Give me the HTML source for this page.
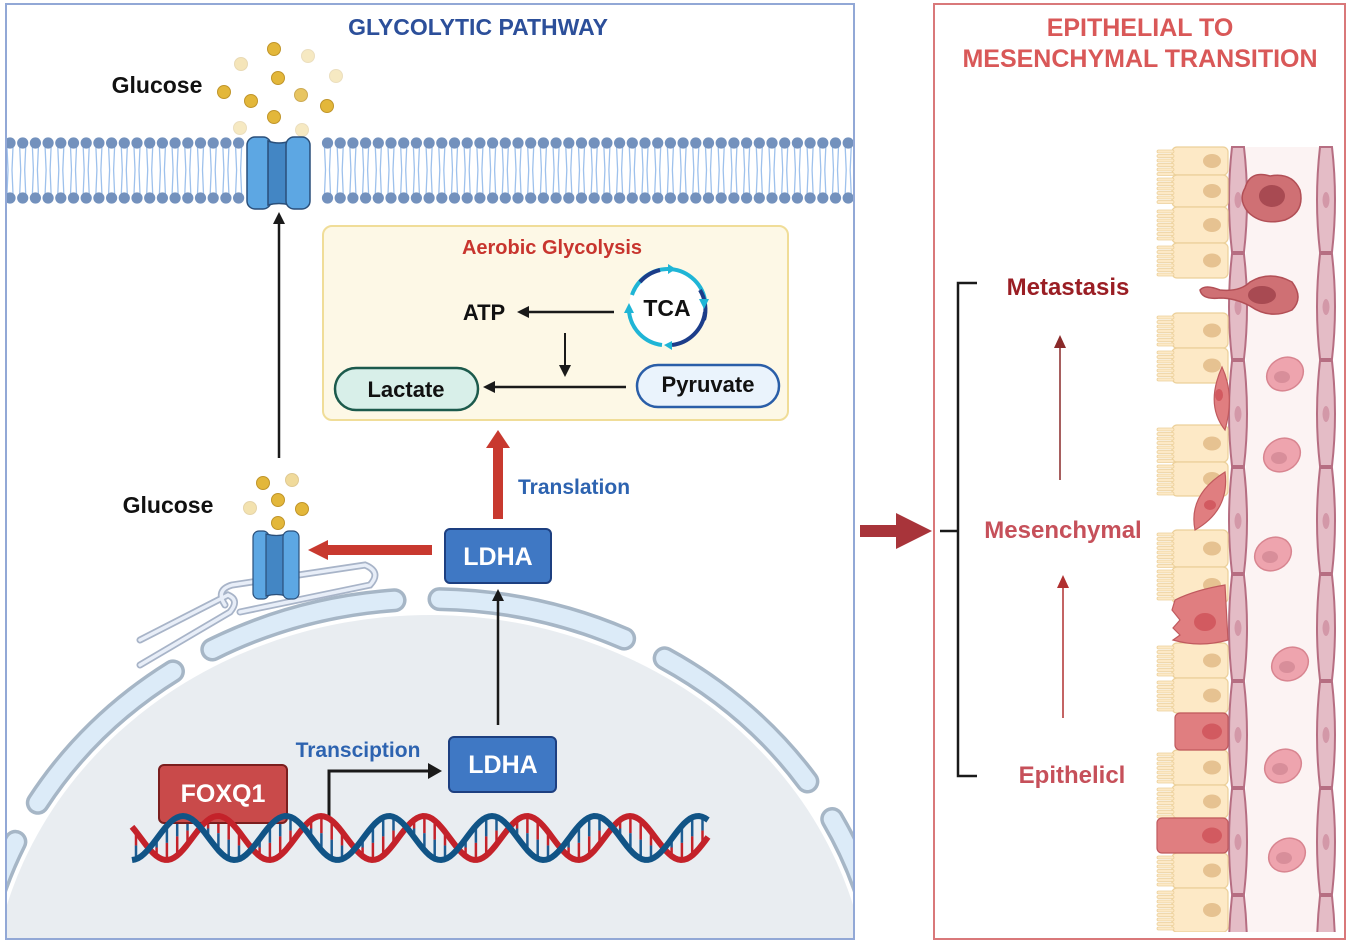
<!DOCTYPE html>
<html><head><meta charset="utf-8"><style>
html,body{margin:0;padding:0;background:#fff;overflow:hidden}
svg{display:block}
text{font-family:"Liberation Sans",sans-serif;font-weight:bold}
</style></head><body>
<svg id="s" width="1350" height="946" viewBox="0 0 1350 946" xmlns="http://www.w3.org/2000/svg">
<defs>
<marker id="ab" markerWidth="12" markerHeight="12" refX="9" refY="6" orient="auto" markerUnits="userSpaceOnUse"><path d="M0,0 L12,6 L0,12 Z" fill="#1a1a1a"/></marker>
<clipPath id="lp"><rect x="6" y="4" width="848" height="935"/></clipPath>
<clipPath id="rp"><rect x="935" y="140" width="410" height="792"/></clipPath>
</defs>
<rect x="0" y="0" width="1350" height="946" fill="#fff"/>
<g clip-path="url(#lp)">
 <ellipse cx="430" cy="1015" rx="440" ry="400" fill="#e9edf1"/>
 <ellipse cx="430" cy="1015" rx="456" ry="416" fill="none" stroke="#a6b6c6" stroke-width="24" stroke-dasharray="190 45" stroke-dashoffset="50" stroke-linecap="round"/>
 <ellipse cx="430" cy="1015" rx="456" ry="416" fill="none" stroke="#dcebf8" stroke-width="17" stroke-dasharray="190 45" stroke-dashoffset="50" stroke-linecap="round"/>
 <g fill="none" stroke="#a8b4c8" stroke-width="7" stroke-linecap="round"><path d="M140,665 L230,612 Q240,600 228,595 L140,640"/><path d="M225,605 Q215,590 232,585 L365,565 Q382,572 370,585 L240,612"/></g>
 <g fill="none" stroke="#e8eef8" stroke-width="3.5" stroke-linecap="round"><path d="M140,665 L230,612 Q240,600 228,595 L140,640"/><path d="M225,605 Q215,590 232,585 L365,565 Q382,572 370,585 L240,612"/></g>
 <g id="dna"></g>
 <g id="mem"></g>
</g>
<rect x="6" y="4" width="848" height="935" fill="none" stroke="#92a8d6" stroke-width="2"/>
<text x="478" y="35" font-size="23" fill="#2c4f9a" text-anchor="middle">GLYCOLYTIC PATHWAY</text>
<text x="157" y="93" font-size="23" fill="#111" text-anchor="middle">Glucose</text>
<text x="168" y="513" font-size="23" fill="#111" text-anchor="middle">Glucose</text>
<g id="glu"></g>
<g stroke="#2a4f7a" stroke-width="1.5">
 <rect x="247" y="137" width="24" height="72" rx="8" fill="#5da7e3"/>
 <path d="M268,141 Q279,145 290,141 L290,205 Q279,202 268,205 Z" fill="#4386c4"/>
 <rect x="286" y="137" width="24" height="72" rx="8" fill="#5da7e3"/>
</g>
<g stroke="#2a4f7a" stroke-width="1.2">
 <rect x="253" y="531" width="16" height="68" rx="6" fill="#5da7e3"/>
 <path d="M266,534 Q277,537 286,534 L286,596 Q277,593 266,596 Z" fill="#4386c4"/>
 <rect x="283" y="531" width="16" height="68" rx="6" fill="#5da7e3"/>
</g>
<line x1="279" y1="458" x2="279" y2="215" stroke="#1a1a1a" stroke-width="2.5" marker-end="url(#ab)"/>
<rect x="323" y="226" width="465" height="194" rx="9" fill="#fdf8e6" stroke="#f0dd98" stroke-width="2"/>
<text x="552" y="254" font-size="20" fill="#c8352e" text-anchor="middle">Aerobic Glycolysis</text>
<text x="484" y="320" font-size="22" fill="#111" text-anchor="middle">ATP</text>
<line x1="614" y1="312" x2="520" y2="312" stroke="#1a1a1a" stroke-width="2.5" marker-end="url(#ab)"/>
<line x1="565" y1="333" x2="565" y2="374" stroke="#1a1a1a" stroke-width="2" marker-end="url(#ab)"/>
<line x1="626" y1="387" x2="486" y2="387" stroke="#1a1a1a" stroke-width="2.5" marker-end="url(#ab)"/>
<circle cx="667" cy="307" r="38" fill="#fff" stroke="none"/>
<path d="M632,295 A38,38 0 0 1 667,269" fill="none" stroke="#1fb5d6" stroke-width="4"/>
<path d="M667,269 A38,38 0 0 1 705,300" fill="none" stroke="#1fb5d6" stroke-width="4"/>
<path d="M705,312 A38,38 0 0 1 672,345" fill="none" stroke="#1c3d8a" stroke-width="4"/>
<path d="M662,345 A38,38 0 0 1 629,312" fill="none" stroke="#1fb5d6" stroke-width="4"/>
<path d="M640,282 A38,38 0 0 1 660,270" fill="none" stroke="#1c3d8a" stroke-width="4"/>
<path d="M700,290 A38,38 0 0 1 704,320" fill="none" stroke="#1c3d8a" stroke-width="4"/>
<path d="M629,303 l-5,10 l10,0z M668,264 l8,5 l-8,5z M709,299 l-5,10 l-5,-10z M672,341 l-8,4 l8,5z" fill="#1fb5d6"/>
<text x="667" y="316" font-size="23" fill="#111" text-anchor="middle">TCA</text>
<rect x="637" y="365" width="142" height="42" rx="21" fill="#eaf3fc" stroke="#2a5ea8" stroke-width="2.5"/>
<text x="708" y="392" font-size="22" fill="#111" text-anchor="middle">Pyruvate</text>
<rect x="335" y="368" width="143" height="42" rx="21" fill="#d8efe9" stroke="#1c5a4c" stroke-width="2.5"/>
<text x="406" y="397" font-size="22" fill="#111" text-anchor="middle">Lactate</text>
<rect x="493" y="445" width="10" height="74" fill="#c8392f"/>
<path d="M486,448 L498,430 L510,448 Z" fill="#c8392f"/>
<text x="518" y="494" font-size="21" fill="#2d63b0">Translation</text>
<rect x="445" y="529" width="106" height="54" rx="5" fill="#3f78c4" stroke="#1d3f80" stroke-width="2"/>
<text x="498" y="565" font-size="25" fill="#fff" text-anchor="middle">LDHA</text>
<rect x="326" y="545" width="106" height="10" fill="#c8392f"/>
<path d="M328,540 L308,550 L328,560 Z" fill="#c8392f"/>
<line x1="498" y1="725" x2="498" y2="592" stroke="#1a1a1a" stroke-width="2.5" marker-end="url(#ab)"/>
<rect x="449" y="737" width="107" height="55" rx="5" fill="#3f78c4" stroke="#1d3f80" stroke-width="2"/>
<text x="503" y="773" font-size="25" fill="#fff" text-anchor="middle">LDHA</text>
<text x="358" y="757" font-size="21" fill="#2d63b0" text-anchor="middle">Transciption</text>
<path d="M329,820 L329,771 L430,771" fill="none" stroke="#1a1a1a" stroke-width="3"/>
<path d="M428,763 L442,771 L428,779 Z" fill="#1a1a1a"/>
<rect x="159" y="765" width="128" height="58" rx="5" fill="#c94a4a" stroke="#7a1e1e" stroke-width="2"/>
<text x="223" y="802" font-size="25" fill="#fff" text-anchor="middle">FOXQ1</text>
<g id="dna2"></g>

<rect x="860" y="525" width="42" height="12" fill="#a8343a"/>
<path d="M896,513 L932,531 L896,549 Z" fill="#a8343a"/>

<rect x="934" y="4" width="411" height="935" fill="none" stroke="#d9787a" stroke-width="2"/>
<text x="1140" y="36" font-size="25" fill="#d95858" text-anchor="middle">EPITHELIAL TO</text>
<text x="1140" y="67" font-size="25" fill="#d95858" text-anchor="middle">MESENCHYMAL TRANSITION</text>
<path d="M977,283 L958,283 L958,776 L977,776" fill="none" stroke="#1a1a1a" stroke-width="2.5"/>
<line x1="940" y1="531" x2="958" y2="531" stroke="#1a1a1a" stroke-width="2.5"/>
<text x="1068" y="295" font-size="24" fill="#9a1e24" text-anchor="middle">Metastasis</text>
<text x="1063" y="538" font-size="24" fill="#c6505a" text-anchor="middle">Mesenchymal</text>
<text x="1072" y="783" font-size="24" fill="#c6505a" text-anchor="middle">Epithelicl</text>
<line x1="1060" y1="480" x2="1060" y2="345" stroke="#8a2a2a" stroke-width="1.5"/>
<path d="M1054,348 L1060,335 L1066,348 Z" fill="#8a2a2a"/>
<line x1="1063" y1="718" x2="1063" y2="585" stroke="#b03030" stroke-width="1.5"/>
<path d="M1057,588 L1063,575 L1069,588 Z" fill="#b03030"/>
<g clip-path="url(#rp)">
<rect x="1246" y="147" width="74" height="785" fill="#fcf3f3"/>
<g id="ves"></g>
<g id="cells"></g>
</g>
</svg>
<script>
var NS="http://www.w3.org/2000/svg";
function el(p,t,a){var e=document.createElementNS(NS,t);for(var k in a)e.setAttribute(k,a[k]);document.getElementById(p).appendChild(e);return e;}
for(var x=10;x<858;x+=12.7){
 if(x>240&&x<316)continue;
 el("mem","path",{d:"M"+(x-3)+",147 L"+(x-2)+",170 L"+(x-3)+",194 M"+(x+3)+",147 L"+(x+2)+",170 L"+(x+3)+",194",stroke:"#9ec1ec","stroke-width":1.3,fill:"none"});
 el("mem","circle",{cx:x,cy:143,r:5.6,fill:"#7391bd"});
 el("mem","circle",{cx:x,cy:198,r:5.6,fill:"#7391bd"});
}
var g=[[274,49,1],[241,64,.35],[308,56,.3],[278,78,1],[336,76,.3],[224,92,1],[251,101,1],[301,95,.8],[327,106,1],[274,117,1],[240,128,.3],[302,130,.3],
[263,483,1],[292,480,.5],[278,500,1],[250,508,.4],[302,509,1],[278,523,1]];
g.forEach(function(p){el("glu","circle",{cx:p[0],cy:p[1],r:6.5,fill:"#e3b73a",stroke:"#c0952a","stroke-width":1,opacity:p[2]});});
function wave(ph){var d="";for(var x=132;x<=708;x+=3){var y=838-22*Math.cos((x-ph)*2*Math.PI/103);d+=(x==132?"M":"L")+x+","+y.toFixed(1);}return d;}
for(var x=136;x<708;x+=10.3){var y1=838-22*Math.cos((x-183)*2*Math.PI/103),y2=838-22*Math.cos((x-218)*2*Math.PI/103);
 var m=(y1+y2)/2;el("dna","line",{x1:x,y1:y1,x2:x,y2:m,stroke:"#1d5c92","stroke-width":2.5});el("dna","line",{x1:x,y1:m,x2:x,y2:y2,stroke:"#c4222a","stroke-width":2.5});}
el("dna2","path",{d:wave(218),stroke:"#c4222a","stroke-width":6,fill:"none"});
el("dna2","path",{d:wave(183),stroke:"#115486","stroke-width":6,fill:"none"});
[1238,1326].forEach(function(cx){
 for(var y=147;y<930;y+=107){
  el("ves","path",{d:"M"+(cx-6)+","+y+" Q"+(cx-12)+","+(y+53)+" "+(cx-6)+","+(y+105)+" L"+(cx+6)+","+(y+105)+" Q"+(cx+12)+","+(y+53)+" "+(cx+6)+","+y+" Z",fill:"#e4bcc6",stroke:"#b66e82","stroke-width":2});
  el("ves","ellipse",{cx:cx,cy:y+53,rx:3.5,ry:8,fill:"#d398a8"});
 }});
[[1285,374],[1282,455],[1273,554],[1290,664],[1283,766],[1287,855]].forEach(function(p){
 el("ves","ellipse",{cx:p[0],cy:p[1],rx:19,ry:16,fill:"#eea4ae",stroke:"#d88590","stroke-width":1.5,transform:"rotate(-30 "+p[0]+" "+p[1]+")"});
 el("ves","ellipse",{cx:p[0]-3,cy:p[1]+3,rx:8,ry:6,fill:"#d88e9a"});});
var rows=[[147,175],[175,207],[207,243],[243,278],[313,348],[348,383],[425,462],[462,496],[530,567],[567,603],[643,678],[678,713],[750,785],[785,818],[853,888],[888,932]];
rows.forEach(function(r){
 var h=r[1]-r[0];el("cells","rect",{x:1172,y:r[0],width:56,height:h,rx:5,fill:"#fde9c6",stroke:"#ecd09a","stroke-width":1.2});
 for(var y=r[0]+3;y<r[1]-2;y+=4.5)el("cells","rect",{x:1157,y:y,width:17,height:3,rx:1.5,fill:"#fde9c6",stroke:"#ecd09a","stroke-width":.8});
 el("cells","ellipse",{cx:1212,cy:(r[0]+r[1])/2,rx:9,ry:7,fill:"#e6c291"});});
[[713,750,1175],[818,853,1157]].forEach(function(r){
 el("cells","rect",{x:r[2],y:r[0],width:1228-r[2],height:r[1]-r[0],rx:5,fill:"#e07e80",stroke:"#c05a5e","stroke-width":1.2});
 el("cells","ellipse",{cx:1212,cy:(r[0]+r[1])/2,rx:10,ry:8,fill:"#d25a60"});});
el("cells","path",{d:"M1175,600 Q1195,590 1225,585 L1228,640 Q1200,648 1173,640 L1180,635 L1173,628 L1180,620 L1172,610 Z",fill:"#e07e80",stroke:"#c05a5e","stroke-width":1.2});
el("cells","ellipse",{cx:1205,cy:622,rx:11,ry:9,fill:"#d25a60"});
el("cells","path",{d:"M1222,367 Q1235,395 1225,430 Q1205,405 1222,367 Z",fill:"#e07e80",stroke:"#c05a5e","stroke-width":1.2});
el("cells","ellipse",{cx:1219,cy:395,rx:4,ry:6,fill:"#d25a60"});
el("cells","path",{d:"M1225,472 Q1230,510 1195,530 Q1188,495 1225,472 Z",fill:"#e07e80",stroke:"#c05a5e","stroke-width":1.2});
el("cells","ellipse",{cx:1210,cy:505,rx:6,ry:5,fill:"#d25a60"});
el("cells","path",{d:"M1245,188 Q1250,170 1270,176 Q1292,172 1300,190 Q1305,212 1285,220 Q1262,226 1248,212 Q1238,200 1245,188 Z",fill:"#cf7074",stroke:"#b24f56","stroke-width":1.5});
el("cells","ellipse",{cx:1272,cy:196,rx:13,ry:11,fill:"#a84a52"});
el("cells","path",{d:"M1200,290 Q1205,284 1220,290 Q1240,292 1250,282 Q1270,270 1292,282 Q1304,298 1292,310 Q1270,320 1250,306 Q1235,298 1220,298 Q1202,300 1200,290 Z",fill:"#cf7074",stroke:"#b24f56","stroke-width":1.5});
el("cells","ellipse",{cx:1262,cy:295,rx:14,ry:9,fill:"#a84a52"});
</script>
</body></html>
